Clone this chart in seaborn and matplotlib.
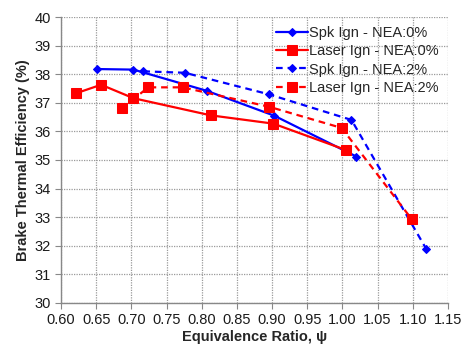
import matplotlib
matplotlib.use("Agg")
import matplotlib.pyplot as plt
import seaborn as sns
import pandas as pd

spk0_x = [0.651, 0.703, 0.807, 0.903, 1.020]
spk0_y = [38.18, 38.16, 37.42, 36.55, 35.12]

las0_x = [0.621, 0.657, 0.703, 0.813, 0.902, 1.005]
las0_y = [37.33, 37.63, 37.16, 36.56, 36.27, 35.35]

spk2_x = [0.717, 0.776, 0.895, 1.013, 1.119]
spk2_y = [38.10, 38.05, 37.30, 36.40, 31.90]

las2_x = [0.687, 0.724, 0.773, 0.896, 0.999, 1.099]
las2_y = [36.81, 37.54, 37.54, 36.86, 36.12, 32.92]

labels = ["Spk Ign - NEA:0%", "Laser Ign - NEA:0%", "Spk Ign - NEA:2%", "Laser Ign - NEA:2%"]
x_ticks = [0.60, 0.65, 0.70, 0.75, 0.80, 0.85, 0.90, 0.95, 1.00, 1.05, 1.10, 1.15]
y_ticks = [30, 31, 32, 33, 34, 35, 36, 37, 38, 39, 40]

sns.set_style("white")
plt.rcParams['font.family'] = ['Liberation Sans', 'DejaVu Sans']

fig = plt.figure(figsize=(4.66, 3.47), dpi=100)
ax = fig.add_axes([0.131, 0.127, 0.830, 0.824])

series = [
    (spk0_x, spk0_y, labels[0], "#0000ff", "-", "D", 4.5),
    (las0_x, las0_y, labels[1], "#ff0000", "-", "s", 6.5),
    (spk2_x, spk2_y, labels[2], "#0000ff", (0, (3, 2.2)), "D", 4.5),
    (las2_x, las2_y, labels[3], "#ff0000", (0, (3, 2.2)), "s", 6.5),
]
for xs, ys, lab, col, ls, mk, ms in series:
    df = pd.DataFrame({"x": xs, "y": ys})
    sns.lineplot(data=df, x="x", y="y", ax=ax, color=col, linestyle=ls, marker=mk,
                 markersize=ms, markeredgecolor=col, linewidth=1.6, label=lab,
                 sort=False, zorder=3)

ax.set_xlim(0.60, 1.15)
ax.set_ylim(30, 40)
ax.set_xticks(x_ticks)
ax.set_xticklabels([f"{v:.2f}" for v in x_ticks])
ax.set_yticks(y_ticks)
ax.set_yticklabels([str(v) for v in y_ticks])
ax.grid(True, color="#9a9a9a", linestyle=(0, (1, 1)), linewidth=0.9)
for s in ["top", "right"]:
    ax.spines[s].set_visible(False)
for s in ["left", "bottom"]:
    ax.spines[s].set_color("#888888")
    ax.spines[s].set_linewidth(1.0)
ax.tick_params(axis="both", direction="out", length=4, color="#888888",
               labelsize=10.5, labelcolor="#1a1a1a", bottom=True, left=True)
ax.set_xlabel("Equivalence Ratio, ψ", fontsize=10.5, fontweight="bold", labelpad=2)
ax.set_ylabel("Brake Thermal Efficiency (%)", fontsize=10.5, fontweight="bold", labelpad=3)

leg = ax.legend(loc="upper right", frameon=False, fontsize=10.5, handlelength=2.2,
                handletextpad=0.1, labelspacing=0.3, borderaxespad=0.2)

fig.savefig("out.png", dpi=100)
